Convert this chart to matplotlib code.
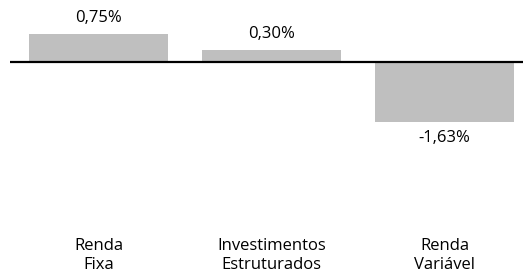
import matplotlib

matplotlib.use("Agg")
import matplotlib.pyplot as plt
from matplotlib.transforms import blended_transform_factory

categories = ["Renda\nFixa", "Investimentos\nEstruturados", "Renda\nVariável"]
values = [0.75, 0.30, -1.63]
value_labels = ["0,75%", "0,30%", "-1,63%"]

plt.rcParams["font.family"] = ["Open Sans", "DejaVu Sans"]

W, H = 523, 274
fig = plt.figure(figsize=(W / 100, H / 100), dpi=100)
# axes from x=10px to right edge, full height
ax = fig.add_axes([10 / W, 0, 1 - 10 / W, 1])

px_x = 173.0  # px per category
px_y = 37.0   # px per unit
x0, y0 = 98.5, 61.5  # pixel positions of category 0 and of zero
ax.set_xlim((10 - x0) / px_x, (W - x0) / px_x)
ax.set_ylim(-(H - y0) / px_y, y0 / px_y)

xs = range(len(values))
ax.bar(xs, values, width=0.80, color="#bfbfbf", zorder=1)
ax.axhline(0, color="black", linewidth=1.6, zorder=2)

for x, v, lab in zip(xs, values, value_labels):
    off = 16 if v >= 0 else -16
    ax.annotate(lab, (x, v), xytext=(0, off * 0.72), textcoords="offset points",
                ha="center", va="center", fontsize=12, color="#000000")

trans = blended_transform_factory(ax.transData, fig.transFigure)
for x, cat in zip(xs, categories):
    ax.text(x, 1 - 255.5 / H, cat, transform=trans, ha="center", va="center",
            fontsize=12, color="#000000", linespacing=1.2)

ax.axis("off")
fig.savefig("out.png", dpi=100)
